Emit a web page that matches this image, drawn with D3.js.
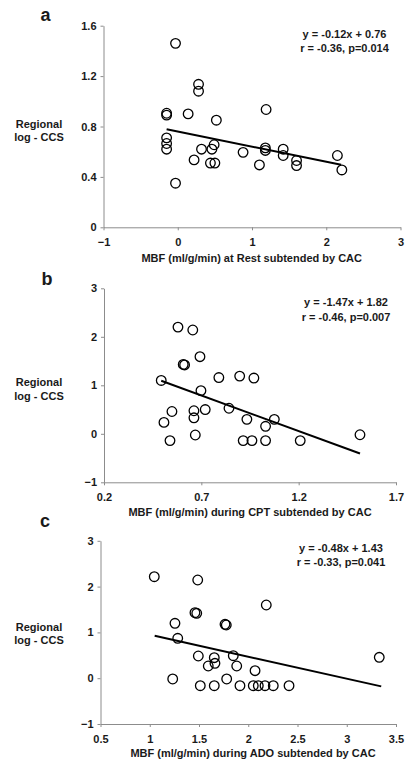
<!DOCTYPE html>
<html><head><meta charset="utf-8">
<script src="https://cdn.jsdelivr.net/npm/d3@7"></script>
<style>
body{margin:0;background:#fff}
text{font-family:"Liberation Sans",Arial,Helvetica,sans-serif;font-weight:bold;fill:#1a1a1a}
</style>
</head><body>
<svg id="chart" width="406" height="769"></svg>
<script>
// ---- Data ----
const panelLabels = ["a", "b", "c"];
const xTitles = [
  "MBF (ml/g/min) at Rest subtended by CAC",
  "MBF (ml/g/min) during CPT subtended by CAC",
  "MBF (ml/g/min) during ADO subtended by CAC"
];
const yTitleLines = ["Regional", "log - CCS"];
const eqLines = [
  ["y = -0.12x + 0.76", "r = -0.36, p=0.014"],
  ["y = -1.47x + 1.82", "r = -0.46, p=0.007"],
  ["y = -0.48x + 1.43", "r = -0.33, p=0.041"]
];

// Panel a: rest
const restX = [-0.03, 0.28, 0.28, -0.15, -0.15, 0.14, 0.52, 1.19, -0.15, -0.15, -0.15, 0.32, 0.22, 0.46, 0.49, 0.44, 0.50, 0.88, 1.10, 1.18, 1.18, 1.42, 1.42, 1.60, 1.60, 2.15, 2.21, -0.03];
const restY = [1.46, 1.135, 1.08, 0.905, 0.89, 0.90, 0.85, 0.935, 0.71, 0.665, 0.62, 0.62, 0.535, 0.62, 0.655, 0.51, 0.51, 0.595, 0.495, 0.63, 0.61, 0.62, 0.57, 0.53, 0.49, 0.57, 0.455, 0.35];
// Panel b: CPT
const cptX = [0.58, 0.656, 0.693, 0.607, 0.614, 0.494, 0.79, 0.897, 0.97, 0.698, 0.549, 0.508, 0.662, 0.662, 0.72, 0.842, 0.934, 1.03, 1.075, 0.539, 0.669, 0.915, 0.96, 1.03, 1.208, 1.515];
const cptY = [2.20, 2.14, 1.59, 1.43, 1.42, 1.10, 1.16, 1.19, 1.15, 0.89, 0.46, 0.235, 0.475, 0.33, 0.50, 0.527, 0.298, 0.155, 0.298, -0.14, -0.025, -0.14, -0.14, -0.14, -0.14, -0.02];
// Panel c: ADO
const adoX = [1.046, 1.487, 2.183, 1.459, 1.477, 1.256, 1.764, 1.777, 1.284, 1.493, 1.655, 1.662, 1.594, 1.848, 1.883, 2.069, 3.33, 1.233, 1.781, 1.513, 1.655, 1.916, 2.051, 2.102, 2.17, 2.254, 2.414];
const adoY = [2.216, 2.144, 1.598, 1.43, 1.417, 1.199, 1.177, 1.162, 0.871, 0.485, 0.448, 0.325, 0.266, 0.491, 0.266, 0.164, 0.456, -0.017, -0.017, -0.164, -0.164, -0.164, -0.164, -0.164, -0.164, -0.164, -0.164];

// Regression fits
const slopes = [-0.12, -1.47, -0.48];
const intercepts = [0.76, 1.82, 1.43];
const fitXStart = [-0.15, 0.494, 1.05];
const fitXEnd = [2.2, 1.515, 3.35];

// Tick labels
const xTicksA = [-1, 0, 1, 2, 3];
const yTicksA = [0, 0.4, 0.8, 1.2, 1.6];
const xTicksB = [0.2, 0.7, 1.2, 1.7];
const yTicksB = [-1, 0, 1, 2, 3];
const xTicksC = [0.5, 1, 1.5, 2, 2.5, 3, 3.5];
const yTicksC = [-1, 0, 1, 2, 3];

// ---- Layout ----
const layouts = [
  {xr:[103.5,400.5], yr:[227.3,25.7], lab:[40.5,20.7], eqX:344.5, eqY:[37.5,52], ylY:[127.5,140.5], xtX:251.7, xtY:262},
  {xr:[104,396], yr:[482.3,288.3], lab:[41.5,285], eqX:346, eqY:[306,320.5], ylY:[386,399.5], xtX:250, xtY:516},
  {xr:[100.5,396], yr:[724,540.8], lab:[40,526.7], eqX:341, eqY:[552,566], ylY:[631,644], xtX:253, xtY:757}
];
const fmtA = d => d === 0 ? "0" : d3.format(".1f")(d);
const panels = [
  {xs:restX, ys:restY, xd:[-1,3], yd:[0,1.6], xt:xTicksA, yt:yTicksA, yfmt:fmtA, xfmt:d3.format("d")},
  {xs:cptX, ys:cptY, xd:[0.2,1.7], yd:[-1,3], xt:xTicksB, yt:yTicksB, yfmt:d3.format("d"), xfmt:d3.format(".1f")},
  {xs:adoX, ys:adoY, xd:[0.5,3.5], yd:[-1,3], xt:xTicksC, yt:yTicksC, yfmt:d3.format("d"), xfmt:d => String(d)}
];

const svg = d3.select("#chart");
const axisColor = "#8c8c8c";

panels.forEach((p, i) => {
  const L = layouts[i];
  const x = d3.scaleLinear().domain(p.xd).range(L.xr);
  const y = d3.scaleLinear().domain(p.yd).range(L.yr);
  const g = svg.append("g");

  // y axis
  const ya = g.append("g").attr("transform", `translate(${L.xr[0]},0)`)
    .call(d3.axisLeft(y).tickValues(p.yt).tickFormat(p.yfmt).tickSize(3).tickSizeOuter(0).tickPadding(4));
  // x axis
  const xa = g.append("g").attr("transform", `translate(0,${L.yr[0]})`)
    .call(d3.axisBottom(x).tickValues(p.xt).tickFormat(p.xfmt).tickSize(3).tickSizeOuter(0).tickPadding(8));
  [ya, xa].forEach(a => {
    a.select(".domain").attr("stroke", axisColor).attr("stroke-width", 1);
    a.selectAll(".tick line").attr("stroke", axisColor);
    a.selectAll(".tick text").attr("font-size", 11).attr("font-family", null).attr("fill", "#1a1a1a");
  });

  // regression line
  g.append("line")
    .attr("x1", x(fitXStart[i])).attr("y1", y(slopes[i]*fitXStart[i] + intercepts[i]))
    .attr("x2", x(fitXEnd[i])).attr("y2", y(slopes[i]*fitXEnd[i] + intercepts[i]))
    .attr("stroke", "#000").attr("stroke-width", 2);

  // points
  const pts = p.xs.map((v, k) => [v, p.ys[k]]);
  g.selectAll("circle").data(pts).enter().append("circle")
    .attr("cx", d => x(d[0])).attr("cy", d => y(d[1])).attr("r", 4.8)
    .attr("fill", "none").attr("stroke", "#000").attr("stroke-width", 1.3);

  // panel label
  g.append("text").attr("x", L.lab[0]).attr("y", L.lab[1]).attr("font-size", 18).text(panelLabels[i]);

  // equation
  eqLines[i].forEach((t, k) => {
    g.append("text").attr("x", L.eqX).attr("y", L.eqY[k]).attr("text-anchor", "middle").attr("font-size", 11).text(t);
  });

  // y title
  yTitleLines.forEach((t, k) => {
    g.append("text").attr("x", 39).attr("y", L.ylY[k]).attr("text-anchor", "middle").attr("font-size", 11).text(t);
  });

  // x title
  g.append("text").attr("x", L.xtX).attr("y", L.xtY).attr("text-anchor", "middle").attr("font-size", 11).text(xTitles[i]);
});
</script>
</body></html>
